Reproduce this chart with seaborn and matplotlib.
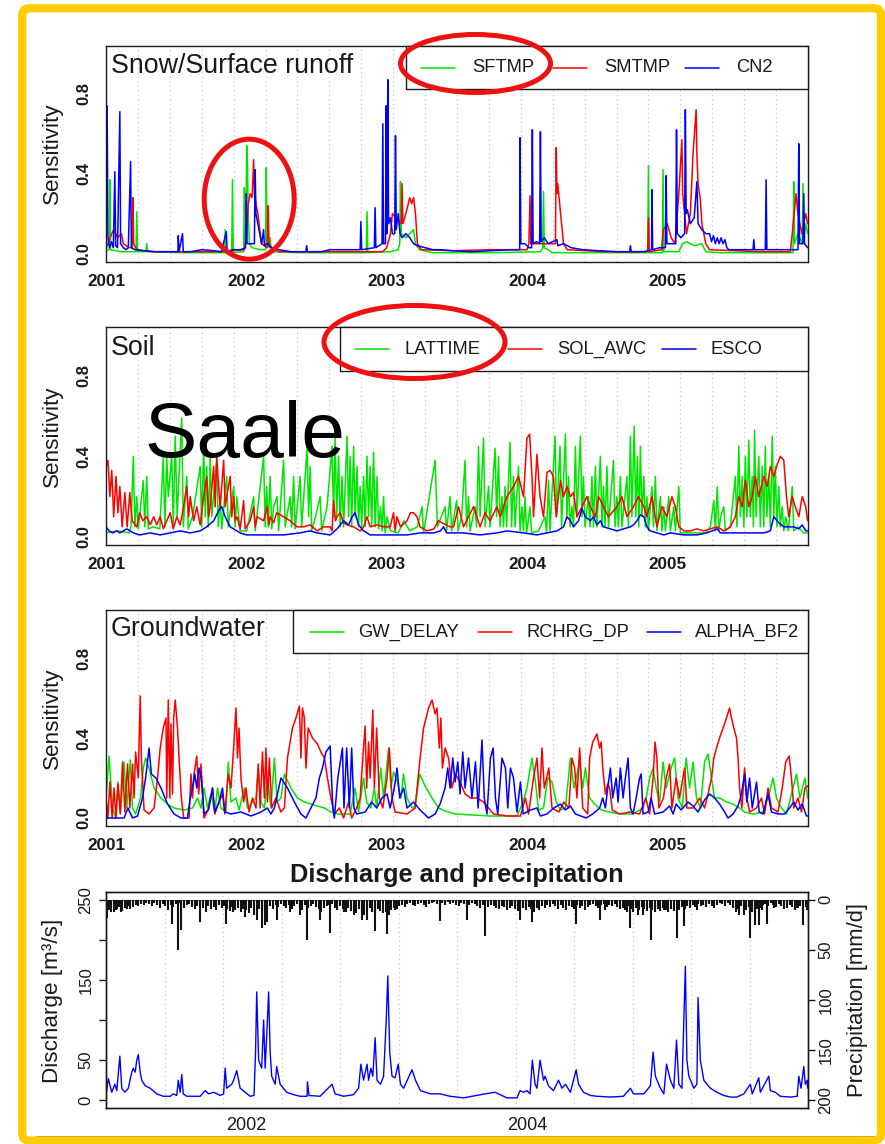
import numpy as np
import pandas as pd
import seaborn as sns
import matplotlib
matplotlib.use("Agg")
import matplotlib.pyplot as plt
from matplotlib.patches import Ellipse, FancyBboxPatch, Rectangle
from matplotlib.lines import Line2D
from matplotlib.transforms import IdentityTransform

W, H = 885, 1144
START = pd.Timestamp("2001-01-01")
N_DAYS = (pd.Timestamp("2006-01-01") - START).days
YEARS = [2001, 2002, 2003, 2004, 2005]
DISCHARGE_YEARS = [2002, 2004]

GREEN, RED, BLUE = "#00e600", "#ff0000", "#0000ff"

# ---------------------------------------------------------------------------
# Daily sensitivity series: (day since 2001-01-01, sensitivity)
# ---------------------------------------------------------------------------
SNOW_SFTMP = [(0, .02), (9, .02), (10, .37), (12, .02), (40, .01), (78, .01), (80, .21), (82, .01),
              (104, .01), (106, .05), (108, .01), (200, .005), (308, .005), (310, .12), (312, .005),
              (327, .005), (329, .37), (331, .005), (358, .01), (360, .33), (362, .04), (364, .10),
              (366, .54), (368, .44), (370, .20), (373, .05), (380, .03), (400, .02), (415, .02),
              (417, .43), (419, .05), (425, .03), (427, .08), (430, .01), (500, .005), (600, .005),
              (677, .005), (679, .21), (681, .005), (740, .01), (760, .02), (764, .05), (766, .36),
              (768, .10), (780, .08), (790, .10), (800, .12), (805, .05), (815, .02), (850, .005),
              (1000, .005), (1130, .01), (1136, .03), (1138, .31), (1140, .03), (1150, .02),
              (1160, .005), (1409, .005), (1411, .44), (1413, .005), (1447, .005), (1449, .42),
              (1451, .01), (1490, .01), (1500, .05), (1510, .06), (1530, .04), (1550, .05),
              (1560, .01), (1600, .005), (1787, .005), (1789, .36), (1791, .05), (1800, .10),
              (1811, .05), (1813, .35), (1815, .05), (1820, .15), (1825, .10)]

SNOW_SMTMP = [(0, .03), (5, .05), (15, .10), (20, .12), (30, .08), (40, .10), (45, .05), (60, .03),
              (68, .03), (70, .28), (72, .05), (80, .02), (120, .01), (200, .01), (300, .01),
              (360, .02), (366, .10), (370, .25), (375, .30), (380, .28), (384, .47), (386, .30),
              (390, .25), (395, .20), (400, .12), (404, .05), (420, .03), (422, .24), (424, .05),
              (430, .03), (450, .01), (600, .01), (720, .01), (730, .03), (740, .10), (745, .20),
              (768, .15), (770, .35), (772, .15), (780, .20), (790, .28), (795, .25), (800, .28),
              (805, .20), (810, .05), (820, .02), (900, .015), (1000, .02), (1095, .02), (1100, .05),
              (1103, .29), (1105, .05), (1130, .05), (1169, .05), (1171, .53), (1173, .30),
              (1175, .35), (1180, .25), (1185, .15), (1190, .05), (1200, .02), (1300, .01),
              (1400, .01), (1409, .01), (1411, .18), (1413, .01), (1445, .02), (1450, .12),
              (1460, .15), (1470, .08), (1480, .05), (1490, .30), (1498, .57), (1500, .30),
              (1510, .10), (1520, .20), (1527, .50), (1535, .72), (1537, .50), (1540, .35),
              (1546, .27), (1550, .15), (1560, .05), (1570, .02), (1700, .01), (1780, .01),
              (1785, .10), (1795, .30), (1800, .20), (1810, .10), (1820, .20), (1825, .15)]

SNOW_CN2 = [(0, .05), (3, .74), (5, .08), (9, .03), (14, .06), (19, .03), (23, .41), (25, .04),
            (30, .03), (36, .71), (38, .05), (45, .03), (52, .02), (58, .03), (64, .46), (66, .03),
            (75, .02), (100, .015), (130, .01), (160, .01), (187, .01), (188, .09), (190, .01),
            (199, .10), (201, .01), (220, .01), (250, .02), (280, .015), (300, .01), (313, .11),
            (315, .01), (330, .02), (350, .02), (363, .03), (365, .30), (367, .05), (375, .05),
            (386, .05), (388, .42), (390, .20), (395, .15), (400, .10), (405, .05), (410, .12),
            (412, .04), (420, .05), (430, .03), (450, .02), (480, .01), (520, .01), (522, .04),
            (524, .01), (560, .01), (583, .02), (600, .02), (620, .02), (640, .02), (661, .02),
            (663, .16), (665, .02), (698, .03), (700, .23), (702, .03), (718, .05), (720, .65),
            (722, .05), (727, .05), (729, .74), (731, .10), (733, .87), (735, .15), (740, .18),
            (745, .10), (751, .10), (753, .59), (755, .12), (760, .20), (765, .10), (770, .08),
            (780, .10), (790, .08), (800, .05), (810, .04), (830, .03), (850, .02), (870, .02),
            (900, .015), (950, .01), (1000, .015), (1050, .02), (1076, .02), (1077, .58),
            (1079, .05), (1090, .05), (1100, .03), (1107, .03), (1109, .62), (1111, .05),
            (1120, .06), (1128, .05), (1130, .61), (1132, .06), (1140, .08), (1150, .05),
            (1173, .07), (1175, .04), (1190, .05), (1210, .03), (1240, .02), (1280, .015),
            (1330, .01), (1362, .01), (1364, .04), (1366, .01), (1400, .01), (1419, .02),
            (1420, .32), (1422, .02), (1440, .03), (1455, .03), (1457, .39), (1459, .05),
            (1470, .05), (1482, .05), (1484, .62), (1486, .10), (1495, .08), (1505, .10),
            (1507, .72), (1509, .20), (1512, .22), (1520, .15), (1530, .18), (1537, .36),
            (1540, .15), (1550, .12), (1560, .10), (1570, .10), (1575, .06), (1580, .09),
            (1585, .05), (1590, .08), (1595, .05), (1600, .08), (1605, .05), (1610, .07),
            (1615, .03), (1620, .02), (1640, .02), (1683, .02), (1685, .07), (1687, .02),
            (1715, .02), (1717, .37), (1719, .02), (1750, .02), (1790, .02), (1800, .02),
            (1802, .55), (1804, .05), (1813, .05), (1815, .30), (1817, .05), (1825, .03)]

SOIL_LATTIME = [(0, .02), (30, .03), (60, .02), (65, .05), (71, .40), (75, .05), (80, .20), (84, .04),
                (97, .28), (101, .05), (106, .30), (110, .04), (123, .05), (140, .04), (149, .40),
                (153, .05), (158, .40), (162, .20), (171, .40), (175, .05), (180, .50), (185, .10),
                (197, .59), (201, .05), (210, .30), (214, .04), (225, .10), (245, .35), (249, .05),
                (254, .45), (258, .10), (262, .35), (266, .05), (271, .40), (275, .10), (288, .38),
                (292, .05), (297, .20), (301, .04), (314, .30), (318, .05), (332, .25), (336, .05),
                (340, .20), (349, .03), (366, .03), (384, .20), (388, .03), (410, .40), (414, .05),
                (418, .25), (422, .05), (427, .30), (431, .04), (436, .15), (445, .20), (449, .03),
                (462, .38), (466, .05), (479, .20), (483, .05), (488, .30), (492, .04), (505, .30),
                (509, .05), (523, .44), (527, .10), (531, .35), (535, .03), (545, .10), (557, .20),
                (561, .03), (575, .15), (588, .45), (592, .10), (596, .49), (600, .10), (605, .40),
                (609, .05), (614, .30), (618, .05), (627, .50), (631, .10), (635, .40), (639, .05),
                (644, .45), (648, .10), (653, .35), (657, .05), (661, .25), (665, .05), (670, .30),
                (674, .05), (679, .40), (683, .10), (687, .35), (691, .05), (696, .42), (700, .05),
                (705, .30), (709, .04), (714, .15), (718, .03), (722, .20), (726, .02), (731, .10),
                (740, .03), (760, .02), (775, .08), (790, .03), (810, .05), (822, .15), (826, .02),
                (856, .38), (862, .05), (882, .15), (886, .03), (895, .20), (899, .03), (912, .18),
                (916, .03), (925, .10), (934, .38), (938, .05), (943, .20), (947, .03), (960, .15),
                (964, .05), (969, .45), (973, .10), (982, .49), (986, .05), (995, .25), (999, .05),
                (1012, .44), (1016, .10), (1021, .40), (1025, .05), (1030, .20), (1034, .05),
                (1038, .25), (1042, .05), (1051, .47), (1055, .05), (1060, .30), (1064, .05),
                (1073, .35), (1077, .03), (1082, .15), (1086, .03), (1090, .20), (1094, .02),
                (1103, .15), (1107, .02), (1125, .03), (1142, .10), (1146, .02), (1151, .28),
                (1155, .03), (1168, .50), (1172, .10), (1181, .45), (1185, .05), (1195, .51),
                (1199, .10), (1203, .30), (1207, .05), (1212, .15), (1216, .05), (1221, .45),
                (1225, .10), (1234, .50), (1238, .10), (1242, .30), (1246, .05), (1255, .20),
                (1259, .05), (1264, .30), (1268, .05), (1273, .35), (1277, .05), (1286, .40),
                (1290, .05), (1294, .25), (1298, .05), (1303, .35), (1307, .05), (1320, .38),
                (1324, .05), (1329, .20), (1333, .05), (1338, .30), (1342, .05), (1355, .30),
                (1359, .05), (1364, .50), (1368, .10), (1374, .55), (1378, .10), (1382, .40),
                (1386, .05), (1390, .45), (1394, .10), (1399, .30), (1403, .05), (1407, .20),
                (1411, .03), (1420, .25), (1424, .05), (1429, .30), (1433, .03), (1442, .20),
                (1446, .03), (1451, .15), (1455, .03), (1464, .20), (1468, .03), (1477, .15),
                (1481, .03), (1490, .25), (1494, .02), (1520, .02), (1560, .02), (1572, .05),
                (1581, .18), (1585, .03), (1590, .25), (1594, .03), (1599, .10), (1607, .15),
                (1611, .03), (1624, .05), (1637, .30), (1641, .05), (1646, .45), (1650, .10),
                (1655, .30), (1659, .05), (1663, .40), (1667, .10), (1672, .48), (1676, .10),
                (1681, .30), (1684, .05), (1687, .53), (1691, .10), (1698, .40), (1702, .05),
                (1707, .35), (1711, .05), (1715, .45), (1719, .10), (1724, .30), (1728, .05),
                (1733, .50), (1737, .10), (1741, .35), (1745, .05), (1750, .25), (1754, .05),
                (1759, .15), (1763, .03), (1768, .10), (1775, .03), (1785, .25), (1789, .03),
                (1800, .05), (1815, .02), (1825, .02)]

SOIL_SOL_AWC = [(0, .35), (5, .38), (10, .20), (15, .33), (20, .10), (26, .30), (31, .12), (36, .25),
                (42, .05), (49, .22), (55, .05), (62, .22), (68, .08), (80, .05), (88, .12), (96, .08),
                (106, .10), (115, .06), (124, .10), (132, .06), (141, .10), (149, .04), (158, .08),
                (167, .12), (175, .04), (184, .10), (193, .06), (201, .14), (210, .25), (215, .10),
                (219, .20), (228, .08), (236, .15), (245, .06), (254, .20), (262, .30), (267, .10),
                (271, .15), (280, .35), (284, .15), (288, .40), (293, .25), (297, .15), (306, .38),
                (310, .15), (314, .20), (323, .30), (327, .10), (332, .20), (336, .08), (341, .10),
                (349, .04), (358, .18), (362, .04), (375, .08), (384, .15), (388, .05), (393, .10),
                (410, .08), (419, .15), (424, .06), (427, .10), (436, .07), (444, .12), (462, .10),
                (479, .08), (497, .05), (514, .05), (531, .06), (549, .03), (566, .05), (583, .05),
                (588, .03), (592, .18), (597, .08), (601, .10), (609, .12), (618, .07), (627, .06),
                (644, .05), (661, .03), (670, .05), (679, .10), (687, .05), (705, .06), (722, .05),
                (739, .05), (748, .12), (752, .03), (757, .10), (766, .05), (783, .08), (792, .12),
                (800, .12), (809, .10), (817, .05), (835, .03), (853, .04), (864, .08), (895, .05),
                (904, .05), (917, .15), (930, .05), (943, .10), (956, .15), (973, .05), (986, .12),
                (999, .08), (1017, .15), (1025, .10), (1043, .20), (1060, .25), (1073, .30),
                (1086, .20), (1095, .49), (1102, .51), (1108, .30), (1112, .10), (1121, .41),
                (1129, .20), (1138, .10), (1147, .32), (1155, .33), (1164, .30), (1171, .10),
                (1182, .28), (1190, .20), (1199, .25), (1208, .20), (1216, .22), (1225, .10),
                (1238, .15), (1251, .20), (1260, .15), (1273, .10), (1281, .20), (1294, .15),
                (1307, .10), (1329, .15), (1342, .20), (1355, .10), (1372, .15), (1385, .20),
                (1399, .15), (1407, .10), (1420, .20), (1433, .05), (1446, .15), (1459, .10),
                (1472, .20), (1481, .15), (1490, .05), (1503, .03), (1520, .03), (1537, .04),
                (1555, .03), (1572, .04), (1590, .05), (1607, .03), (1624, .05), (1637, .10),
                (1646, .20), (1655, .15), (1663, .28), (1672, .15), (1681, .20), (1689, .30),
                (1698, .20), (1711, .30), (1720, .25), (1728, .35), (1737, .30), (1746, .36),
                (1754, .40), (1763, .38), (1770, .20), (1776, .10), (1785, .20), (1793, .15),
                (1802, .10), (1811, .20), (1820, .15), (1825, .08)]

SOIL_ESCO = [(0, .05), (8, .03), (17, .02), (28, .03), (36, .02), (54, .04), (71, .02), (88, .01),
             (115, .02), (141, .01), (167, .02), (193, .03), (219, .02), (245, .03), (262, .05),
             (280, .08), (293, .13), (301, .15), (310, .10), (323, .05), (332, .04), (349, .02),
             (366, .01), (384, .01), (419, .01), (462, .01), (505, .02), (531, .03), (549, .02),
             (583, .01), (601, .04), (618, .08), (631, .06), (640, .10), (648, .12), (657, .06),
             (670, .03), (687, .01), (713, .01), (748, .01), (783, .01), (817, .02), (853, .02),
             (870, .03), (878, .05), (886, .02), (930, .02), (973, .01), (1017, .02), (1043, .03),
             (1086, .02), (1121, .01), (1147, .02), (1173, .03), (1190, .05), (1199, .10),
             (1208, .08), (1216, .05), (1229, .08), (1238, .14), (1247, .10), (1260, .08),
             (1268, .10), (1277, .06), (1286, .08), (1294, .05), (1312, .04), (1329, .03),
             (1346, .04), (1364, .05), (1372, .06), (1381, .08), (1390, .11), (1399, .10),
             (1407, .05), (1416, .03), (1433, .02), (1451, .01), (1468, .02), (1503, .01),
             (1537, .01), (1563, .02), (1590, .04), (1598, .02), (1624, .02), (1667, .02),
             (1711, .02), (1728, .03), (1737, .10), (1750, .07), (1763, .05), (1776, .05),
             (1789, .05), (1802, .04), (1811, .06), (1820, .03), (1825, .03)]

GW_DELAY = [(0, .10), (8, .31), (17, .05), (25, .00), (31, .18), (38, .03), (47, .28), (54, .05),
            (63, .29), (69, .05), (77, .02), (90, .10), (97, .25), (103, .30), (112, .25), (125, .15),
            (143, .10), (160, .07), (177, .05), (203, .04), (225, .05), (238, .10), (247, .05),
            (255, .15), (264, .05), (273, .12), (283, .03), (290, .15), (299, .05), (312, .03),
            (318, .28), (325, .08), (338, .10), (346, .04), (360, .15), (368, .05), (381, .08),
            (390, .10), (396, .25), (403, .08), (412, .05), (420, .20), (429, .05), (438, .30),
            (445, .08), (455, .10), (464, .22), (481, .15), (498, .10), (516, .08), (533, .07),
            (550, .06), (568, .05), (585, .03), (603, .02), (635, .02), (648, .15), (657, .03),
            (670, .20), (678, .08), (689, .05), (698, .15), (704, .05), (715, .25), (722, .10),
            (735, .35), (741, .15), (748, .23), (758, .18), (767, .10), (774, .22), (783, .10),
            (796, .05), (804, .06), (816, .22), (830, .16), (848, .10), (865, .05), (882, .035),
            (908, .02), (956, .015), (1000, .01), (1069, .01), (1085, .08), (1095, .15),
            (1108, .30), (1117, .18), (1125, .04), (1138, .05), (1149, .20), (1160, .18),
            (1171, .08), (1182, .04), (1195, .05), (1208, .30), (1217, .15), (1232, .28),
            (1240, .15), (1247, .25), (1258, .10), (1271, .07), (1288, .04), (1310, .03),
            (1336, .02), (1371, .02), (1397, .05), (1405, .10), (1414, .20), (1423, .25),
            (1431, .15), (1440, .08), (1449, .28), (1457, .15), (1470, .25), (1479, .30),
            (1488, .10), (1499, .05), (1509, .30), (1518, .15), (1527, .28), (1536, .10),
            (1546, .05), (1557, .28), (1566, .32), (1575, .20), (1583, .10), (1596, .10),
            (1614, .08), (1631, .07), (1648, .05), (1661, .03), (1683, .02), (1709, .03),
            (1722, .10), (1735, .20), (1744, .10), (1757, .05), (1770, .02), (1787, .15),
            (1796, .22), (1805, .10), (1818, .20), (1825, .10)]

RCHRG_DP = [(0, .10), (5, .00), (10, .18), (16, .00), (21, .15), (26, .00), (31, .17), (37, .02),
            (43, .28), (49, .03), (56, .27), (62, .05), (69, .27), (73, .10), (77, .33), (84, .20),
            (89, .61), (92, .30), (99, .04), (112, .02), (125, .05), (134, .20), (141, .35),
            (149, .45), (156, .50), (158, .10), (162, .59), (166, .10), (169, .47), (173, .12),
            (176, .50), (180, .59), (186, .45), (190, .30), (196, .10), (202, .00), (216, .00),
            (221, .22), (225, .10), (229, .22), (236, .31), (241, .12), (247, .27), (252, .10),
            (255, .00), (268, .05), (277, .15), (283, .02), (294, .08), (303, .12), (309, .02),
            (318, .22), (325, .15), (332, .35), (338, .55), (342, .30), (346, .45), (351, .20),
            (358, .08), (364, .15), (372, .03), (381, .10), (390, .05), (396, .27), (401, .05),
            (407, .33), (412, .10), (416, .35), (420, .08), (425, .30), (431, .05), (442, .10),
            (455, .03), (464, .05), (472, .30), (485, .45), (494, .50), (503, .56), (507, .30),
            (511, .55), (516, .50), (520, .25), (526, .45), (537, .40), (550, .37), (559, .33),
            (568, .30), (576, .20), (585, .10), (594, .02), (607, .05), (618, .00), (631, .08),
            (639, .00), (652, .05), (661, .10), (668, .30), (674, .46), (678, .15), (683, .38),
            (687, .20), (694, .54), (698, .15), (704, .45), (711, .10), (720, .05), (731, .20),
            (737, .35), (744, .10), (752, .03), (783, .02), (804, .05), (817, .30), (826, .45),
            (839, .55), (848, .59), (856, .52), (861, .55), (867, .35), (871, .50), (875, .25),
            (882, .35), (891, .30), (900, .15), (908, .22), (921, .18), (934, .12), (948, .10),
            (965, .10), (982, .08), (995, .05), (1008, .02), (1043, .01), (1078, .01), (1091, .10),
            (1099, .02), (1112, .20), (1121, .30), (1128, .10), (1134, .35), (1140, .15),
            (1152, .25), (1160, .05), (1178, .03), (1191, .08), (1204, .05), (1212, .30),
            (1219, .25), (1225, .10), (1232, .35), (1240, .05), (1253, .02), (1258, .30),
            (1266, .38), (1277, .42), (1284, .35), (1288, .38), (1292, .25), (1299, .12),
            (1305, .17), (1310, .15), (1317, .04), (1336, .02), (1362, .03), (1388, .02),
            (1404, .10), (1414, .02), (1423, .20), (1428, .38), (1433, .30), (1438, .05),
            (1450, .10), (1457, .20), (1466, .27), (1472, .05), (1483, .20), (1492, .10),
            (1505, .25), (1511, .05), (1527, .05), (1544, .10), (1557, .05), (1566, .12),
            (1575, .20), (1581, .30), (1588, .35), (1596, .40), (1605, .45), (1614, .50),
            (1622, .55), (1627, .50), (1633, .45), (1640, .40), (1644, .30), (1648, .15),
            (1654, .05), (1661, .25), (1667, .10), (1674, .03), (1692, .05), (1705, .10),
            (1713, .02), (1722, .15), (1731, .05), (1748, .03), (1759, .15), (1768, .28),
            (1777, .31), (1783, .20), (1789, .05), (1800, .10), (1809, .03), (1818, .15),
            (1825, .16)]

ALPHA_BF2 = [(0, .00), (47, .00), (57, .05), (69, .00), (82, .01), (95, .10), (103, .20), (112, .35),
             (118, .22), (130, .20), (143, .15), (160, .07), (177, .02), (195, .00), (212, .00),
             (219, .10), (225, .15), (231, .22), (236, .15), (242, .25), (248, .20), (255, .02),
             (266, .04), (277, .15), (283, .03), (294, .08), (303, .15), (309, .03), (325, .02),
             (351, .03), (377, .01), (403, .03), (420, .05), (429, .02), (438, .05), (446, .12),
             (455, .20), (472, .15), (490, .08), (507, .02), (520, .00), (533, .05), (546, .10),
             (555, .20), (563, .25), (572, .33), (583, .36), (590, .05), (594, .00), (603, .20),
             (615, .35), (619, .05), (626, .35), (633, .05), (639, .35), (645, .05), (652, .02),
             (674, .03), (691, .08), (704, .05), (718, .10), (731, .12), (739, .05), (750, .15),
             (757, .25), (764, .10), (774, .15), (783, .05), (800, .08), (817, .04), (839, .00),
             (856, .02), (869, .07), (882, .15), (889, .25), (895, .15), (902, .30), (908, .18),
             (915, .28), (921, .12), (928, .33), (934, .15), (943, .30), (952, .10), (961, .28),
             (968, .05), (978, .39), (984, .10), (991, .02), (1000, .30), (1007, .35), (1013, .10),
             (1019, .02), (1030, .30), (1039, .25), (1045, .05), (1052, .25), (1060, .20),
             (1069, .03), (1078, .18), (1085, .02), (1104, .04), (1121, .05), (1130, .01),
             (1147, .02), (1165, .05), (1182, .07), (1195, .04), (1208, .06), (1221, .02),
             (1249, .00), (1266, .02), (1284, .05), (1292, .10), (1299, .05), (1305, .15),
             (1312, .25), (1318, .10), (1327, .20), (1332, .08), (1338, .25), (1345, .10),
             (1351, .20), (1358, .30), (1364, .05), (1371, .02), (1379, .10), (1388, .20),
             (1392, .22), (1397, .02), (1410, .03), (1418, .10), (1427, .02), (1449, .03),
             (1466, .06), (1475, .02), (1483, .07), (1496, .04), (1514, .08), (1527, .06),
             (1540, .03), (1557, .09), (1570, .12), (1583, .10), (1596, .07), (1609, .03),
             (1618, .00), (1631, .02), (1644, .06), (1653, .12), (1661, .22), (1667, .08),
             (1674, .20), (1681, .05), (1692, .18), (1699, .03), (1709, .02), (1722, .12),
             (1731, .03), (1748, .02), (1765, .02), (1778, .05), (1789, .08), (1800, .04),
             (1811, .07), (1822, .01), (1825, .01)]

# Discharge [m3/s]: (day, value)
DISCHARGE = [(0, 8), (2, 13), (6, 27), (15, 10), (23, 20), (28, 12), (36, 55), (41, 15), (49, 10),
             (58, 15), (67, 35), (71, 40), (76, 35), (80, 50), (84, 57), (89, 35), (93, 25),
             (102, 18), (115, 15), (132, 8), (149, 5), (167, 5), (175, 8), (184, 6), (188, 25),
             (193, 10), (197, 32), (201, 8), (210, 5), (245, 5), (258, 12), (267, 8), (280, 10),
             (297, 6), (306, 8), (310, 40), (314, 15), (327, 20), (332, 25), (340, 37), (349, 15),
             (362, 10), (375, 5), (385, 6), (389, 60), (392, 135), (397, 50), (405, 40), (410, 100),
             (414, 40), (418, 80), (423, 135), (427, 60), (431, 30), (440, 20), (444, 42), (453, 20),
             (470, 10), (488, 7), (505, 5), (523, 5), (524, 23), (528, 6), (557, 5), (588, 20),
             (596, 8), (618, 5), (644, 7), (657, 15), (663, 45), (670, 25), (679, 45), (683, 25),
             (689, 40), (694, 30), (700, 78), (705, 25), (714, 20), (722, 30), (729, 100),
             (733, 155), (738, 60), (744, 30), (752, 28), (760, 45), (766, 20), (774, 15),
             (796, 38), (805, 25), (818, 12), (844, 8), (869, 8), (895, 5), (930, 3), (986, 8),
             (1012, 10), (1043, 3), (1069, 3), (1077, 12), (1086, 10), (1095, 12), (1103, 8),
             (1109, 50), (1116, 20), (1121, 15), (1129, 50), (1138, 25), (1142, 30), (1151, 18),
             (1164, 12), (1177, 25), (1186, 15), (1195, 20), (1208, 10), (1223, 38), (1229, 20),
             (1242, 10), (1260, 6), (1277, 5), (1312, 4), (1346, 5), (1364, 15), (1372, 8),
             (1399, 8), (1416, 18), (1423, 60), (1429, 30), (1442, 15), (1451, 8), (1458, 45),
             (1468, 25), (1477, 15), (1484, 75), (1490, 20), (1498, 15), (1507, 167), (1511, 50),
             (1516, 30), (1529, 15), (1537, 20), (1540, 128), (1546, 50), (1555, 25), (1572, 15),
             (1589, 10), (1607, 6), (1624, 4), (1641, 4), (1659, 8), (1676, 20), (1681, 8),
             (1698, 28), (1702, 10), (1724, 30), (1728, 12), (1741, 10), (1754, 5), (1780, 4),
             (1798, 5), (1802, 30), (1808, 15), (1815, 42), (1819, 20), (1824, 25), (1825, 15)]

# Precipitation [mm/d]: weekly background values starting 2001-01-01
PRECIP_WEEKLY = [
    8, 10, 6, 12, 9, 7, 11, 8, 6, 9, 7, 5, 6, 4, 5, 3, 4, 6, 3, 5, 8, 4, 6, 10, 5, 7,
    4, 3, 6, 8, 5, 4, 7, 9, 6, 5, 8, 12, 6, 9, 7, 10, 5, 8, 6, 9, 11, 7, 10, 8, 12, 9,
    10, 13, 8, 15, 12, 9, 14, 10, 8, 6, 9, 5, 7, 4, 6, 8, 5, 9, 6, 4, 7, 10, 5, 8, 6, 4,
    7, 9, 12, 8, 6, 5, 4, 8, 10, 6, 9, 12, 8, 11, 10, 13, 9, 12, 15, 10, 8, 12, 14, 9, 11, 13,
    12, 15, 10, 8, 9, 6, 5, 7, 4, 3, 5, 6, 4, 3, 5, 7, 4, 3, 2, 4, 6, 3, 5, 2, 4, 3,
    5, 6, 3, 4, 7, 5, 3, 4, 6, 8, 5, 4, 7, 5, 6, 8, 9, 6, 7, 10, 8, 6, 9, 11, 7, 8,
    10, 7, 9, 12, 8, 10, 6, 8, 5, 7, 4, 6, 9, 5, 8, 10, 6, 7, 9, 5, 8, 6, 10, 7, 5, 4,
    6, 8, 5, 4, 7, 5, 6, 4, 7, 9, 8, 10, 6, 9, 12, 8, 10, 7, 9, 11, 8, 10, 12, 9, 11, 8,
    10, 12, 9, 11, 8, 10, 7, 9, 6, 8, 5, 7, 4, 6, 5, 7, 4, 6, 8, 5, 3, 4, 6, 3, 5, 8,
    12, 9, 6, 14, 10, 7, 12, 15, 9, 8, 5, 4, 6, 3, 5, 7, 4, 6, 9, 8, 5, 7, 10, 8, 6, 9, 7]

# Precipitation [mm/d]: individual heavy-rain days (day, value)
PRECIP_EVENTS = [(3, 18), (12, 12), (25, 10), (40, 12), (55, 9), (171, 24), (188, 50), (196, 30),
                 (245, 22), (312, 24), (331, 12), (362, 17), (392, 20), (405, 28), (414, 25),
                 (418, 22), (444, 20), (479, 12), (505, 15), (522, 40), (557, 20), (583, 33),
                 (618, 12), (644, 15), (666, 20), (679, 20), (700, 31), (731, 34), (752, 10),
                 (869, 21), (938, 20), (986, 36), (1077, 20), (1108, 22), (1223, 24), (1286, 20),
                 (1299, 10), (1355, 12), (1364, 28), (1385, 15), (1398, 15), (1418, 40),
                 (1451, 10), (1459, 10), (1484, 38), (1503, 26), (1520, 8), (1537, 10),
                 (1646, 15), (1660, 15), (1676, 38), (1689, 25), (1698, 25), (1707, 10),
                 (1720, 24), (1737, 8), (1780, 5), (1798, 8), (1814, 25), (1824, 10)]

SENS_TICKS = [0.0, 0.2, 0.4, 0.6, 0.8, 1.0]
SENS_TICKLABELS = ["0.0", "", "0.4", "", "0.8", ""]
Q_TICKS = [0, 50, 100, 150, 200, 250]
Q_TICKLABELS = ["0", "50", "", "150", "", "250"]
P_TICKS = [0, 50, 100, 150, 200]

# ---------------------------------------------------------------------------
sns.set_style("white")
plt.rcParams["font.family"] = ["Liberation Sans", "DejaVu Sans"]
INK = "#1a1a1a"

fig = plt.figure(figsize=(W / 100, H / 100), dpi=100)
fig.patch.set_facecolor("white")
PIX = IdentityTransform()


def px_rect(l, t, r, b):
    return [l / W, 1 - b / H, (r - l) / W, (b - t) / H]


def year_day(y):
    return (pd.Timestamp(f"{y}-01-01") - START).days


def to_frame(series):
    parts = []
    for name, pts in series:
        arr = np.asarray(pts, dtype=float)
        parts.append(pd.DataFrame({"day": arr[:, 0], "value": arr[:, 1], "parameter": name}))
    return pd.concat(parts, ignore_index=True)


def dotted_grid(ax, n):
    for k in range(1, n):
        ax.axvline(N_DAYS * k / n, color="#c8c8c8", lw=0.9, ls=(0, (1, 2.6)), zorder=0.5)


def style_box(ax):
    for sp in ax.spines.values():
        sp.set_color(INK)
        sp.set_linewidth(1.0)


def legend_box(left, top, bottom, handle_starts, text_offset, labels, colors):
    fig.add_artist(Rectangle((left, H - bottom), 808 - left, bottom - top, transform=PIX,
                             facecolor="white", edgecolor=INK, lw=1.0, zorder=5))
    ymid = (top + bottom) / 2
    for hs, lab, col in zip(handle_starts, labels, colors):
        fig.add_artist(Line2D([hs, hs + 34], [H - ymid, H - ymid], transform=PIX,
                              color=col, lw=1.1, zorder=6))
        fig.text((hs + text_offset) / W, 1 - (ymid + 0.5) / H, lab, ha="left", va="center",
                 fontsize=13.2, color=INK, zorder=7)


def sens_panel(rect, series, colors, title, title_baseline):
    ax = fig.add_axes(px_rect(*rect))
    names = [s[0] for s in series]
    dotted_grid(ax, 22)
    sns.lineplot(data=to_frame(series), x="day", y="value", hue="parameter", hue_order=names,
                 palette=dict(zip(names, colors)), estimator=None, linewidth=1.1,
                 legend=False, ax=ax)
    ax.set_xlim(0, N_DAYS)
    ax.set_ylim(-0.04, 1.04)
    ax.set_xticks([year_day(y) for y in YEARS])
    ax.set_xticklabels([str(y) for y in YEARS], fontweight="bold", fontsize=12.3, color=INK)
    ax.set_yticks(SENS_TICKS)
    ax.set_yticklabels(SENS_TICKLABELS, fontweight="bold", fontsize=12, rotation=90,
                       va="center", color=INK)
    ax.tick_params(axis="x", length=5.8, width=1.0, pad=2.7, color=INK)
    ax.tick_params(axis="y", length=5.0, width=1.0, pad=5.6, color=INK)
    ax.set_xlabel("")
    ax.set_ylabel("")
    style_box(ax)
    fig.text(111 / W, 1 - title_baseline / H, title, ha="left", va="baseline",
             fontsize=19.3, color=INK)
    cy = (rect[1] + rect[3]) / 2
    fig.text(52.5 / W, 1 - cy / H, "Sensitivity", rotation=90, ha="center", va="center",
             fontsize=16.2, color=INK)
    return ax


ax1 = sens_panel((106, 45.7, 808, 261.7),
                 [("SFTMP", SNOW_SFTMP), ("SMTMP", SNOW_SMTMP), ("CN2", SNOW_CN2)],
                 [GREEN, RED, BLUE], "Snow/Surface runoff", 72.7)
legend_box(406, 45.7, 89.3, [421, 553, 685], 51, ["SFTMP", "SMTMP", "CN2"], [GREEN, RED, BLUE])

ax2 = sens_panel((106, 327.3, 808, 545.0),
                 [("LATTIME", SOIL_LATTIME), ("SOL_AWC", SOIL_SOL_AWC), ("ESCO", SOIL_ESCO)],
                 [GREEN, RED, BLUE], "Soil", 355.0)
legend_box(340, 327.3, 370.7, [355, 508, 662], 49, ["LATTIME", "SOL_AWC", "ESCO"],
           [GREEN, RED, BLUE])

ax3 = sens_panel((106, 610.0, 808, 826.0),
                 [("GW_DELAY", GW_DELAY), ("RCHRG_DP", RCHRG_DP), ("ALPHA_BF2", ALPHA_BF2)],
                 [GREEN, RED, BLUE], "Groundwater", 635.7)
legend_box(293, 610.0, 653.3, [310, 478, 647], 48, ["GW_DELAY", "RCHRG_DP", "ALPHA_BF2"],
           [GREEN, RED, BLUE])

# --- discharge and precipitation -------------------------------------------
ax4 = fig.add_axes(px_rect(106, 891.7, 808, 1108.3))
dotted_grid(ax4, 12)
sns.lineplot(data=to_frame([("Discharge", DISCHARGE)]), x="day", y="value", color=BLUE,
             linewidth=1.0, estimator=None, ax=ax4)
ax4.set_xlim(0, N_DAYS)
ax4.set_ylim(-10, 260)
ax4.set_xticks([year_day(y) for y in DISCHARGE_YEARS])
ax4.set_xticklabels([str(y) for y in DISCHARGE_YEARS], fontsize=13, color=INK)
ax4.set_yticks(Q_TICKS)
ax4.set_yticklabels(Q_TICKLABELS, fontsize=12, rotation=90, va="center", color=INK)
ax4.tick_params(axis="x", length=5.8, width=1.0, pad=0.8, color=INK)
ax4.tick_params(axis="y", length=5.0, width=1.0, pad=4.0, color=INK)
ax4.set_xlabel("")
ax4.set_ylabel("")
style_box(ax4)

ax5 = ax4.twinx()
p_days = np.concatenate([np.arange(len(PRECIP_WEEKLY)) * 7,
                         np.array([d for d, _ in PRECIP_EVENTS])])
p_vals = np.concatenate([np.array(PRECIP_WEEKLY, dtype=float),
                         np.array([v for _, v in PRECIP_EVENTS], dtype=float)])
ax5.axhline(0, color="#8a8a8a", lw=0.8)
ax5.vlines(p_days, 0, p_vals, color="#111111", lw=1.5)
ax5.set_ylim(208, -8)
ax5.set_xlim(0, N_DAYS)
ax5.set_yticks(P_TICKS)
ax5.set_yticklabels([str(t) for t in P_TICKS], fontsize=12, rotation=90, va="center", color=INK)
ax5.tick_params(axis="y", length=5.0, width=1.0, pad=2.5, color=INK)
ax5.set_ylabel("")
style_box(ax5)

fig.text(457 / W, 1 - 881.7 / H, "Discharge and precipitation", ha="center", va="baseline",
         fontsize=18.3, fontweight="bold", color=INK)
fig.text(52.5 / W, 1 - 1000.5 / H, "Discharge [m³/s]", rotation=90, ha="center", va="center",
         fontsize=16.2, color=INK)
fig.text(857 / W, 1 - 1000 / H, "Precipitation [mm/d]", rotation=90, ha="center", va="center",
         fontsize=15.8, color=INK)

# --- annotations --------------------------------------------------------------
fig.text(144 / W, 1 - 456.7 / H, "Saale", ha="left", va="baseline", fontsize=56.5, color="black",
         zorder=8)
for cx, cy, ew, eh in [(475.5, 63.5, 150, 58), (249.2, 199.2, 90, 120), (414.5, 342, 181, 73)]:
    fig.add_artist(Ellipse((cx, H - cy), ew, eh, transform=PIX, fill=False,
                           edgecolor="#ee1111", lw=3.6, zorder=9))

fig.add_artist(Line2D([37, 880], [H - 1136.7, H - 1136.7], transform=PIX, color="#555555",
                      lw=1.1, zorder=9))
fig.add_artist(FancyBboxPatch((22.2, H - 1140.5), 858.8, 1132.2,
                              boxstyle="round,pad=0,rounding_size=7", transform=PIX,
                              fill=False, edgecolor="#ffcc00", lw=5.9, zorder=10))

fig.savefig("out.png", dpi=100)
